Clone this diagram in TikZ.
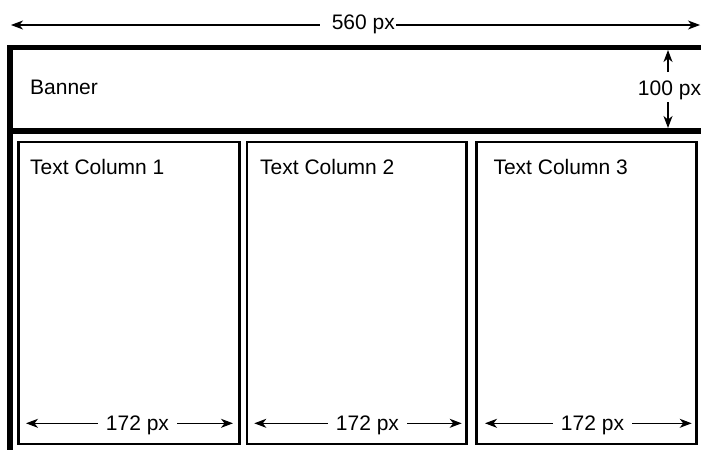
\documentclass[tikz,border=0pt]{standalone}
\usepackage{fontspec}
\setmainfont{Liberation Sans}
\usetikzlibrary{arrows.meta,positioning}

\begin{document}
\begin{tikzpicture}[x=1pt,y=-1pt,
    every node/.style={font=\fontsize{21}{25}\selectfont, inner sep=1pt},
    frameline/.style={line width=5.3pt},
    colbox/.style={draw, line width=2.5pt, outer sep=0pt, minimum height=302pt, anchor=north west},
    dimline/.style={-{Stealth[length=12pt,width=9pt,inset=3.5pt]}, line width=1.1pt},
    ]
\useasboundingbox (0,0) rectangle (701,450);

% page width
\node[anchor=base] (pagew) at (363.3,29.3) {560 px};
\coordinate (pagewl) at (11,25);
\coordinate (pagewr) at (700,25);
\draw[dimline, shorten <=10.8pt] (pagew.west |- pagewl) -- (pagewl);
\draw[dimline] (pagew.east |- pagewr) -- (pagewr);

% outer frame and banner
\draw[frameline] (701,47.5) -- (10,47.5) -- (10,450);
\draw[frameline] (10,131) -- (701,131);
\node[anchor=base west] (banner) at (29,94.3) {Banner};

\node[anchor=base] (bannerh) at (669.5,95) {100 px};
\coordinate (bannerht) at (668,50);
\coordinate (bannerhb) at (668,128);
\draw[dimline, shorten <=7pt] (bannerh.north -| bannerht) -- (bannerht);
\draw[dimline, shorten <=1.6pt] (bannerh.south -| bannerhb) -- (bannerhb);

% text columns
\foreach \n/\x/\w/\tx/\cx/\l/\r in {1/18.7/220.8/29/137.5/26/233,
    2/247/219.7/259/367.5/254.3/461.7,
    3/476.3/220.4/492.3/592.5/485/691.7}{
  \node[colbox, minimum width=\w pt] (col\n) at (\x,142) {};
  \node[anchor=base west] (coltext\n) at (\tx,174) {Text Column \n};
  \node[anchor=base] (colw\n) at (\cx,430) {172 px};
  \coordinate (colwl\n) at (\l,423.3);
  \coordinate (colwr\n) at (\r,423.3);
  \draw[dimline, shorten <=7pt] (colw\n.west |- colwl\n) -- (colwl\n);
  \draw[dimline, shorten <=7pt] (colw\n.east |- colwr\n) -- (colwr\n);
}

\end{tikzpicture}
\end{document}
